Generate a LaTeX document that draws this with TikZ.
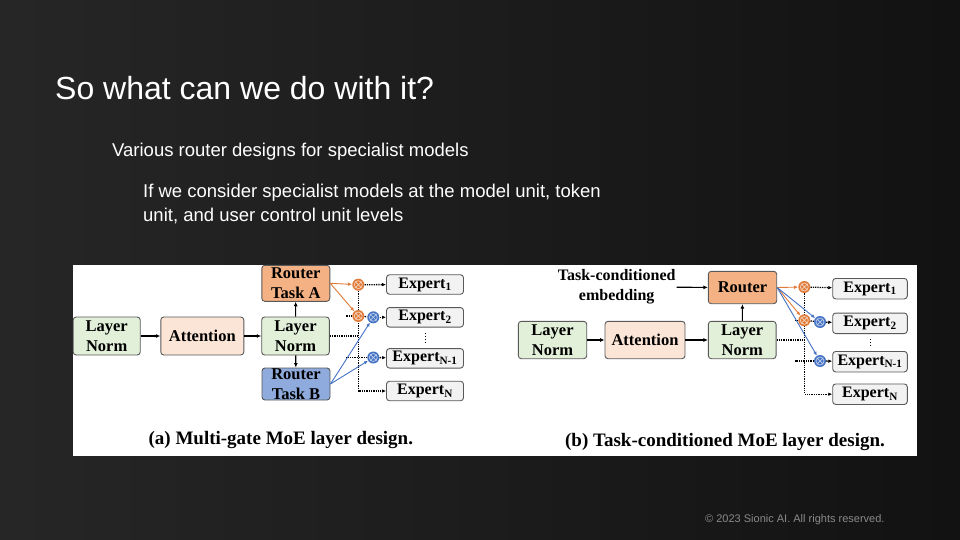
\documentclass[tikz,border=0pt]{standalone}
\usepackage{fontspec}
\setmainfont{Liberation Serif}
\newfontfamily\slidefont{Liberation Sans}
\usetikzlibrary{arrows.meta,positioning}
\definecolor{boxgreen}{HTML}{E2F0D9}
\definecolor{boxpeach}{HTML}{FBE5D6}
\definecolor{boxorange}{HTML}{F4B183}
\definecolor{boxblue}{HTML}{8FAADC}
\definecolor{boxgray}{HTML}{F2F2F2}
\definecolor{gateorange}{HTML}{E07B39}
\definecolor{gateblue}{HTML}{4472C4}
\definecolor{footgray}{HTML}{8A8A8A}
\pgfdeclarelayer{back}
\pgfdeclarelayer{bg}
\pgfsetlayers{back,bg,main}

\begin{document}
\begin{tikzpicture}[x=1pt, y=-1pt,
    box/.style={draw=black!65, line width=0.9pt, rounded corners=3pt, align=center, inner sep=0pt, font=\fontsize{16.5}{19.5}\selectfont\bfseries},
    expert/.style={box, fill=boxgray, minimum width=77pt, minimum height=19.5pt, font=\fontsize{16}{18}\selectfont\bfseries},
    gate/.style={circle, fill=#1, minimum size=12pt, inner sep=0pt,
      path picture={\draw[white!65!#1, line width=0.7pt] (path picture bounding box.center) circle (4)
        +(-3.2,-3.2) -- +(3.2,3.2) +(-3.2,3.2) -- +(3.2,-3.2);}},
    flow/.style={-{Latex[length=4.5pt,width=4pt]}, line width=1.1pt},
    route/.style={-{Latex[length=4pt,width=3.5pt]}, line width=0.9pt, draw=#1},
    tap/.style={densely dotted, line width=1.3pt},
    caption/.style={font=\fontsize{19}{22}\selectfont\bfseries},
    slide/.style={text=white, anchor=base west, inner sep=0pt}
  ]
    \useasboundingbox (0,0) rectangle (960,540);
    \begin{pgfonlayer}{back}
      \shade[left color=black!85, right color=black!93] (0,0) rectangle (960,540);
      \fill[white] (73,265) rectangle (917,456);
    \end{pgfonlayer}

    \node[slide, font=\slidefont\fontsize{32}{38}\selectfont] (title) at (55,100) {So what can we do with it?};
    \node[slide, font=\slidefont\fontsize{18.5}{24}\selectfont] (sub) at (112,157) {Various router designs for specialist models};
    \node[slide, font=\slidefont\fontsize{18.5}{24}\selectfont, align=left] (note) at (143,221)
      {If we consider specialist models at the model unit, token\\unit, and user control unit levels};

    % (a) multi-gate
    \node[box, fill=boxgreen, minimum width=67pt, minimum height=38pt] (ln1a) at (106.7,336) {Layer\\Norm};
    \node[box, fill=boxpeach, minimum width=83pt, minimum height=38pt] (atta) at (202.3,336) {Attention};
    \node[box, fill=boxgreen, minimum width=67.6pt, minimum height=38pt] (ln2a) at (295.5,336) {Layer\\Norm};
    \node[box, fill=boxorange, minimum width=68pt, minimum height=36pt] (ra) at (295.8,283.3) {Router\\Task A};
    \node[box, fill=boxblue, minimum width=68pt, minimum height=32pt] (rb) at (296,384) {Router\\Task B};

    \node[expert] (e1a) at (425,284.5) {Expert\textsubscript{1}};
    \node[expert] (e2a) at (425,317.3) {Expert\textsubscript{2}};
    \node[expert] (ena1) at (425,358.3) {Expert\textsubscript{N-1}};
    \node[expert] (ena) at (425,391) {Expert\textsubscript{N}};

    \node[gate=gateorange] (oa1) at (358.3,284.7) {};
    \node[gate=gateorange] (oa2) at (358.3,316) {};
    \node[gate=gateblue] (ba2) at (373.3,317.3) {};
    \node[gate=gateblue] (ba3) at (373.3,357.5) {};

    \draw[flow] (ln1a) -- (atta);
    \draw[flow] (atta) -- (ln2a);
    \draw[flow] (ln2a) -- (ra);
    \draw[flow] (ln2a) -- (rb);

    \draw[route=gateorange] (ra.east) -- (oa1);
    \draw[route=gateorange] (ra.east) -- (oa2);
    \draw[route=gateblue] (rb.east) -- (ba2);
    \draw[route=gateblue] (rb.east) -- (ba3);

    \begin{pgfonlayer}{bg}
      \draw[tap] (ln2a.east) -- (ln2a.east -| oa1);
      \draw[tap, -{Latex[length=4pt,width=3.5pt]}] (oa1) -- (oa1 |- ena) -- (ena);
      \draw[tap] (oa2) -- +(-12,0);
      \draw[tap] (ba3) -- +(-27,0);
      \draw[tap] (oa2) -- (ba2);
    \end{pgfonlayer}
    \draw[tap, -{Latex[length=4pt,width=3.5pt]}] (oa1) -- (e1a);
    \draw[tap, -{Latex[length=4pt,width=3.5pt]}] (ba2) -- (e2a);
    \draw[tap, -{Latex[length=4pt,width=3.5pt]}] (ba3) -- (ena1);
    \draw[dotted, line width=1pt, shorten <=5pt, shorten >=5pt] (e2a) -- (ena1);

    \node[caption] (capa) at (280.8,440) {(a) Multi-gate MoE layer design.};

    % (b) task-conditioned
    \node[box, fill=boxgreen, minimum width=68.4pt, minimum height=37.4pt] (ln1b) at (552.5,340) {Layer\\Norm};
    \node[box, fill=boxpeach, minimum width=80pt, minimum height=37.4pt] (attb) at (645,340) {Attention};
    \node[box, fill=boxgreen, minimum width=67.7pt, minimum height=37.4pt] (ln2b) at (742.2,340) {Layer\\Norm};
    \node[box, fill=boxorange, minimum width=68.4pt, minimum height=32.4pt] (rt) at (742.5,287.5) {Router};
    \node[align=center, inner sep=1pt, font=\fontsize{16}{20}\selectfont\bfseries] (tce) at (616.7,287) {Task-conditioned\\embedding};

    \node[expert, minimum width=74.6pt, minimum height=20.5pt] (e1b) at (870,288.7) {Expert\textsubscript{1}};
    \node[expert, minimum width=74.6pt, minimum height=20.5pt] (e2b) at (870,323.3) {Expert\textsubscript{2}};
    \node[expert, minimum width=74.6pt, minimum height=20.5pt] (enb1) at (870,361.7) {Expert\textsubscript{N-1}};
    \node[expert, minimum width=74.6pt, minimum height=20.5pt] (enb) at (870,394.2) {Expert\textsubscript{N}};

    \node[gate=gateorange] (ob1) at (804.3,287) {};
    \node[gate=gateorange] (ob2) at (804.3,320.3) {};
    \node[gate=gateblue] (bb2) at (820,322) {};
    \node[gate=gateblue] (bb3) at (820,361) {};

    \draw[flow] (tce) -- (rt);
    \draw[flow] (ln1b) -- (attb);
    \draw[flow] (attb) -- (ln2b);
    \draw[flow] (ln2b) -- (rt);

    \draw[route=gateorange] (rt.east) -- (ob1);
    \draw[route=gateorange] (rt.east) -- (ob2);
    \draw[route=gateblue] (rt.east) -- (bb2);
    \draw[route=gateblue] (rt.east) -- (bb3);

    \begin{pgfonlayer}{bg}
      \draw[tap] (ln2b.east) -- (ln2b.east -| ob1);
      \draw[tap, -{Latex[length=4pt,width=3.5pt]}] (ob1) -- (ob1 |- enb) -- (enb);
      \draw[tap] (ob2) -- +(-10,0);
      \draw[tap] (bb3) -- +(-25,0);
      \draw[tap] (ob2) -- (bb2);
    \end{pgfonlayer}
    \draw[tap, -{Latex[length=4pt,width=3.5pt]}] (ob1) -- (e1b);
    \draw[tap, -{Latex[length=4pt,width=3.5pt]}] (bb2) -- (e2b);
    \draw[tap, -{Latex[length=4pt,width=3.5pt]}] (bb3) -- (enb1);
    \draw[dotted, line width=1pt, shorten <=5pt, shorten >=5pt] (e2b) -- (enb1);

    \node[caption] (capb) at (725,442) {(b) Task-conditioned MoE layer design.};

    \node[slide, text=footgray, font=\slidefont\fontsize{11}{13}\selectfont] (foot) at (705,522) {© 2023 Sionic AI. All rights reserved.};
  \end{tikzpicture}
\end{document}
